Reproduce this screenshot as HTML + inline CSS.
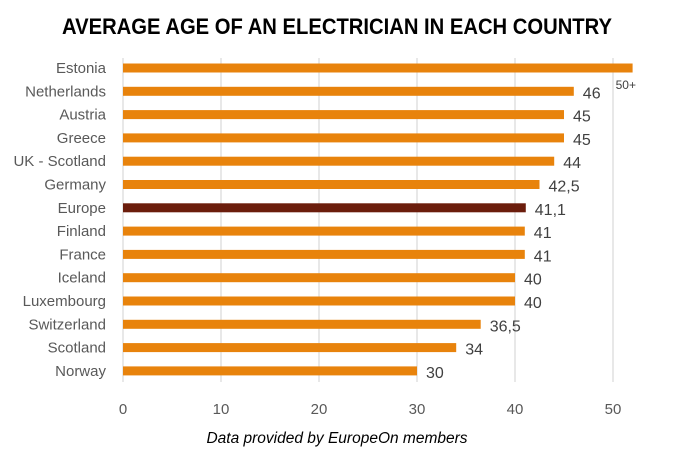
<!DOCTYPE html>
<html><head><meta charset="utf-8"><style>
html,body{margin:0;padding:0;background:#fff;}
svg{display:block;font-family:"Liberation Sans",sans-serif;}
</style></head><body>
<svg id="chart" width="680" height="459">
<text x="337" y="34" text-anchor="middle" font-size="22" font-weight="bold" fill="#000" textLength="550" lengthAdjust="spacingAndGlyphs">AVERAGE AGE OF AN ELECTRICIAN IN EACH COUNTRY</text>
<g id="grid"></g><g id="bars"></g><g id="labels"></g>
<text x="337" y="443" text-anchor="middle" font-size="15.5" font-style="italic" fill="#000">Data provided by EuropeOn members</text>
</svg>
<script>
const categories=["Estonia","Netherlands","Austria","Greece","UK - Scotland","Germany","Europe","Finland","France","Iceland","Luxembourg","Switzerland","Scotland","Norway"];
const values=[52,46,45,45,44,42.5,41.1,41,41,40,40,36.5,34,30];
const valueLabels=["50+","46","45","45","44","42,5","41,1","41","41","40","40","36,5","34","30"];
const ticks=[0,10,20,30,40,50];
const NS="http://www.w3.org/2000/svg";
const x=v=>123+v*9.8;
const y=i=>68+i*23.3;
function mk(t,a,p){const e=document.createElementNS(NS,t);for(const k in a)e.setAttribute(k,a[k]);p.appendChild(e);return e;}
const grid=document.getElementById('grid'),bars=document.getElementById('bars'),labels=document.getElementById('labels');
ticks.forEach(t=>{
  const l=mk('line',{x1:x(t),x2:x(t),y1:58,y2:382,stroke:'#d9d9d9','stroke-width':1.2},grid);
  
  
  const tx=mk('text',{x:x(t),y:414,'text-anchor':'middle','font-size':15,fill:'#595959'},grid);
  tx.textContent=t;
  
  
});
categories.forEach((c,i)=>{
  const cy=y(i);
  const r=mk('rect',{x:x(0),y:cy-4.5,width:x(values[i])-x(0),height:9,fill:c==="Europe"?'#6b1d0c':'#e8830c'},bars);
  
  
  const cl=mk('text',{x:106,y:cy+5,'text-anchor':'end','font-size':15,fill:'#595959'},labels);
  cl.textContent=c;
  
  
  let vl;
  if(i===0){vl=mk('text',{x:x(values[i])-17,y:cy+21,'font-size':12,fill:'#404040'},labels);}
  else{vl=mk('text',{x:x(values[i])+9,y:cy+7,'font-size':16,fill:'#404040'},labels);}
  vl.textContent=valueLabels[i];
  
  
});
</script>
</body></html>
